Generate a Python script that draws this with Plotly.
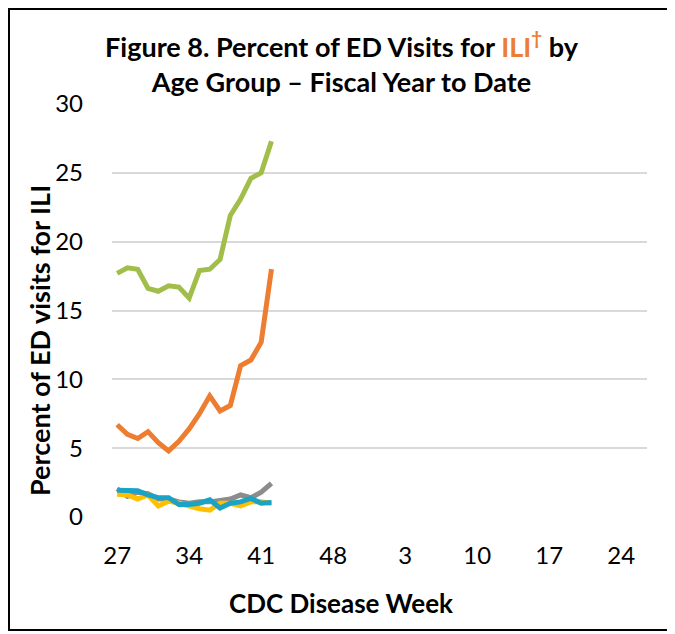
import plotly.graph_objects as go

# fiscal year weeks: 27..52 then 1..26
weeks = [str(w) for w in list(range(27, 53)) + list(range(1, 27))]
tick_weeks = ["27", "34", "41", "48", "3", "10", "17", "24"]

# weeks with data so far (27-42)
data_weeks = weeks[:16]

age_5_17 = [17.7, 18.1, 18.0, 16.6, 16.4, 16.8, 16.7, 15.9,
            17.9, 18.0, 18.7, 21.9, 23.1, 24.6, 25.0, 27.3]
age_0_4 = [6.7, 6.0, 5.7, 6.2, 5.4, 4.8, 5.5, 6.4,
           7.5, 8.8, 7.7, 8.1, 11.0, 11.4, 12.7, 18.0]
age_18_49 = [2.05, 1.5, 1.8, 1.7, 1.3, 1.3, 1.1, 1.0,
             1.1, 1.1, 1.2, 1.3, 1.6, 1.4, 1.8, 2.45]
age_65_up = [1.65, 1.6, 1.3, 1.6, 0.8, 1.15, 1.0, 0.8,
             0.6, 0.5, 1.0, 1.0, 0.8, 1.1, 1.1, 1.0]
age_50_64 = [1.95, 1.9, 1.9, 1.6, 1.4, 1.4, 0.9, 0.9,
             1.0, 1.25, 0.65, 1.0, 1.1, 1.35, 1.0, 1.05]

series = [
    ("18-49", age_18_49, "#8C8C8C"),
    ("65+", age_65_up, "#FFC000"),
    ("50-64", age_50_64, "#1AA3C4"),
    ("0-4", age_0_4, "#ED7D31"),
    ("5-17", age_5_17, "#A2BE4A"),
]

fig = go.Figure()
for name, vals, color in series:
    fig.add_trace(go.Scatter(
        x=data_weeks, y=vals, name=name, mode="lines",
        line=dict(color=color, width=5, shape="linear"),
    ))

font_fam = "Lato, 'Open Sans', sans-serif"

# the page body adds an 8px offset, so the figure is a bit smaller than the window
fig.update_layout(
    width=667, height=626,
    margin=dict(l=104, r=28, t=96, b=117),
    paper_bgcolor="white", plot_bgcolor="white",
    showlegend=False,
    font=dict(family=font_fam, size=24, color="black"),
    title=dict(
        text="<b>Figure 8. Percent of ED Visits for "
             "<span style='color:#ED7D31'>ILI<sup>†</sup></span> by"
             "<br>Age Group – Fiscal Year to Date</b>",
        x=0.5, xanchor="center", y=0.922, yanchor="top",
        font=dict(family=font_fam, size=27, color="black"),
    ),
    xaxis=dict(
        type="category", categoryorder="array", categoryarray=weeks,
        range=[-0.5, len(weeks) - 0.5],
        tickmode="array", tickvals=tick_weeks, ticktext=tick_weeks,
        showgrid=False, showline=False, zeroline=False, ticks="",
        ticklabelstandoff=22,
        tickfont=dict(size=24),
    ),
    yaxis=dict(
        range=[0, 30], tickvals=[0, 5, 10, 15, 20, 25, 30],
        showgrid=True, gridcolor="#D9D9D9", gridwidth=1.5,
        zeroline=False, showline=False, ticks="",
        ticklabelstandoff=28,
        tickfont=dict(size=24),
    ),
)

# axis titles are centred on the whole chart, not on the plot area
fig.add_annotation(text="<b>CDC Disease Week</b>", xref="paper", yref="paper",
                   x=0.428, y=-0.208, xanchor="center", yanchor="middle",
                   showarrow=False, font=dict(size=26))
fig.add_annotation(text="<b>Percent of ED visits for ILI</b>", xref="paper",
                   yref="paper", x=-0.1346, y=0.4286, textangle=-90,
                   xanchor="center", yanchor="middle",
                   showarrow=False, font=dict(size=27))

# outer frame around the whole figure
fig.add_shape(type="rect", xref="paper", yref="paper",
              x0=-103/535, x1=558/535, y0=-113/413, y1=(413 + 95)/413,
              line=dict(color="black", width=2), layer="above")

fig.write_html("out.html")
